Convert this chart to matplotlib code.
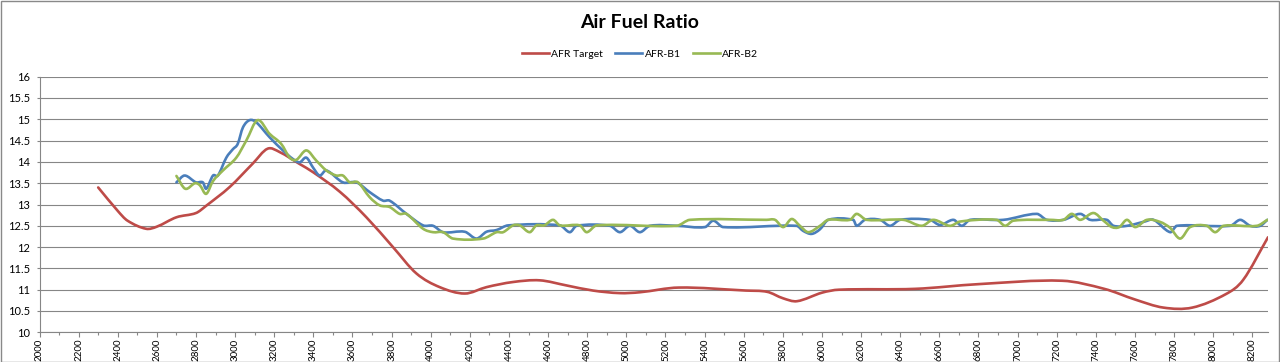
import numpy as np
import matplotlib
matplotlib.use("Agg")
import matplotlib.pyplot as plt
from matplotlib.path import Path
from matplotlib.patches import PathPatch, Rectangle
from matplotlib.lines import Line2D

plt.rcParams['font.family'] = ['Lato', 'DejaVu Sans']

# AFR target
rpm_target = [2300, 2400, 2450, 2545, 2600, 2700, 2800, 2852, 2972, 3090, 3166, 3228,
              3330, 3398, 3535, 3671, 3807, 3927, 4046, 4174, 4285, 4420, 4557, 4694,
              4829, 4966, 5069, 5268, 5611, 5720, 5800, 5872, 6000, 6087, 6476, 6798,
              7228, 7443, 7600, 7745, 7893, 8066, 8153, 8280]
afr_target = [13.40, 12.85, 12.62, 12.43, 12.48, 12.70, 12.80, 12.97, 13.41, 13.96, 14.31, 14.23,
              13.95, 13.76, 13.30, 12.70, 12.00, 11.38, 11.06, 10.91, 11.06, 11.18, 11.22, 11.10,
              10.98, 10.92, 10.94, 11.05, 10.98, 10.95, 10.80, 10.73, 10.93, 11.00, 11.02, 11.13,
              11.21, 11.02, 10.77, 10.58, 10.58, 10.90, 11.23, 12.23]

# AFR bank 1
rpm_b1 = [2700, 2742, 2800, 2835, 2852, 2887, 2912, 2955, 2989, 3013, 3040, 3074, 3108,
          3176, 3244, 3295, 3330, 3364, 3398, 3432, 3466, 3551, 3620, 3688, 3756, 3790,
          3876, 3961, 4012, 4063, 4174, 4234, 4285, 4336, 4396, 4660, 4711, 4745, 4916,
          4967, 5018, 5069, 5120, 5257, 5402, 5444, 5495, 5870, 5904, 5947, 5990, 6032,
          6160, 6177, 6220, 6297, 6348, 6399, 6552, 6603, 6672, 6715, 6757, 6927, 7098,
          7149, 7234, 7320, 7371, 7456, 7490, 7560, 7650, 7695, 7780, 7814, 8087, 8138,
          8189, 8240, 8277]
afr_b1 = [13.52, 13.68, 13.52, 13.52, 13.37, 13.68, 13.68, 14.10, 14.30, 14.42, 14.81, 14.98, 14.93,
          14.58, 14.27, 14.07, 13.99, 14.10, 13.87, 13.68, 13.80, 13.52, 13.52, 13.29, 13.09, 13.09,
          12.78, 12.51, 12.50, 12.35, 12.36, 12.20, 12.36, 12.40, 12.51, 12.51, 12.35, 12.50, 12.50,
          12.35, 12.50, 12.35, 12.50, 12.50, 12.47, 12.62, 12.47, 12.50, 12.38, 12.31, 12.42, 12.64,
          12.64, 12.50, 12.64, 12.64, 12.50, 12.64, 12.64, 12.52, 12.64, 12.50, 12.64, 12.64, 12.78,
          12.64, 12.64, 12.78, 12.64, 12.64, 12.50, 12.50, 12.60, 12.64, 12.35, 12.50, 12.50, 12.64,
          12.50, 12.50, 12.64]

# AFR bank 2
rpm_b2 = [2700, 2745, 2795, 2820, 2852, 2887, 2938, 3006, 3057, 3115, 3176, 3236, 3279,
          3313, 3364, 3415, 3466, 3517, 3551, 3586, 3628, 3688, 3739, 3790, 3841, 3876,
          3961, 4012, 4063, 4114, 4268, 4336, 4370, 4421, 4455, 4506, 4540, 4580, 4625,
          4660, 4762, 4797, 4848, 5257, 5325, 5717, 5760, 5802, 5845, 5887, 5930, 5990,
          6032, 6143, 6177, 6228, 6416, 6510, 6569, 6654, 6706, 6893, 6936, 6978, 7166,
          7234, 7277, 7320, 7388, 7439, 7482, 7520, 7559, 7601, 7661, 7729, 7780, 7831,
          7882, 7967, 8010, 8053, 8223, 8277]
afr_b2 = [13.67, 13.37, 13.50, 13.45, 13.25, 13.55, 13.80, 14.10, 14.50, 14.98, 14.66, 14.42, 14.10,
          14.05, 14.27, 14.03, 13.80, 13.68, 13.68, 13.52, 13.52, 13.17, 12.98, 12.94, 12.78, 12.78,
          12.43, 12.35, 12.35, 12.20, 12.20, 12.35, 12.35, 12.51, 12.51, 12.35, 12.51, 12.51, 12.64,
          12.51, 12.51, 12.35, 12.51, 12.50, 12.64, 12.64, 12.64, 12.47, 12.66, 12.50, 12.35, 12.50,
          12.64, 12.64, 12.78, 12.64, 12.64, 12.50, 12.64, 12.50, 12.60, 12.64, 12.50, 12.62, 12.64,
          12.64, 12.78, 12.64, 12.80, 12.62, 12.47, 12.47, 12.64, 12.47, 12.64, 12.59, 12.45, 12.20,
          12.47, 12.50, 12.35, 12.50, 12.50, 12.64]

series_names = ['AFR Target', 'AFR-B1', 'AFR-B2']
series_colors = ['#BE4B48', '#4A7EBB', '#98B954']


def smooth_path(xs, ys):
    # Excel-like smoothed line: cubic Bezier through each point
    x = np.asarray(xs, float)
    y = np.asarray(ys, float)
    n = len(x)
    m = np.zeros(n)
    for i in range(n):
        a = max(i - 1, 0)
        b = min(i + 1, n - 1)
        m[i] = (y[b] - y[a]) / (x[b] - x[a])
    verts = [(x[0], y[0])]
    codes = [Path.MOVETO]
    for i in range(n - 1):
        dx = (x[i + 1] - x[i]) / 3
        verts += [(x[i] + dx, y[i] + m[i] * dx),
                  (x[i + 1] - dx, y[i + 1] - m[i + 1] * dx),
                  (x[i + 1], y[i + 1])]
        codes += [Path.CURVE4] * 3
    return Path(verts, codes)


fig = plt.figure(figsize=(12.8, 3.62), dpi=100)
ax = fig.add_axes([39.5 / 1280, 1 - 332.3 / 362, (1268 - 39.5) / 1280, 255.6 / 362])

for xs, ys, c in zip([rpm_target, rpm_b1, rpm_b2], [afr_target, afr_b1, afr_b2], series_colors):
    ax.add_patch(PathPatch(smooth_path(xs, ys), facecolor='none', edgecolor=c,
                           lw=1.9, capstyle='round', joinstyle='round', zorder=3))

ax.set_xlim(2000, 8280)
ax.set_ylim(10, 16)
ax.set_xticks(np.arange(2000, 8201, 200))
ax.set_xticks(np.arange(2100, 8280, 200), minor=True)
ax.set_yticks(np.arange(10, 16.01, 0.5))
ax.set_yticklabels([f'{v:g}' for v in np.arange(10, 16.01, 0.5)])
ax.tick_params(axis='x', which='major', length=3.6, width=0.8, color='#868686',
               labelsize=7, rotation=90, pad=1)
ax.tick_params(axis='x', which='minor', length=2.2, width=0.8, color='#868686')
ax.tick_params(axis='y', length=2.2, width=0.8, color='#868686', labelsize=8, pad=4.5)
ax.grid(axis='y', color='#868686', lw=0.8)
ax.set_axisbelow(True)
for s in ['top', 'right']:
    ax.spines[s].set_visible(False)
for s in ['left', 'bottom']:
    ax.spines[s].set_color('#868686')
    ax.spines[s].set_linewidth(0.8)

fig.text(0.5, 1 - 22 / 362, 'Air Fuel Ratio', ha='center', va='center',
         fontsize=14, fontweight='bold')

handles = [Line2D([], [], color=c, lw=1.9) for c in series_colors]
fig.legend(handles, series_names, loc='center', bbox_to_anchor=(0.5, 1 - 54 / 362),
           ncol=3, frameon=False, fontsize=7.5, handlelength=2.6, columnspacing=1.2,
           handletextpad=0.2)

fig.add_artist(Rectangle((0.5 / 1280, 0.5 / 362), 1278.5 / 1280, 360.5 / 362,
                         transform=fig.transFigure, fill=False, edgecolor='#898989', lw=1))

fig.savefig('out.png', dpi=100)
